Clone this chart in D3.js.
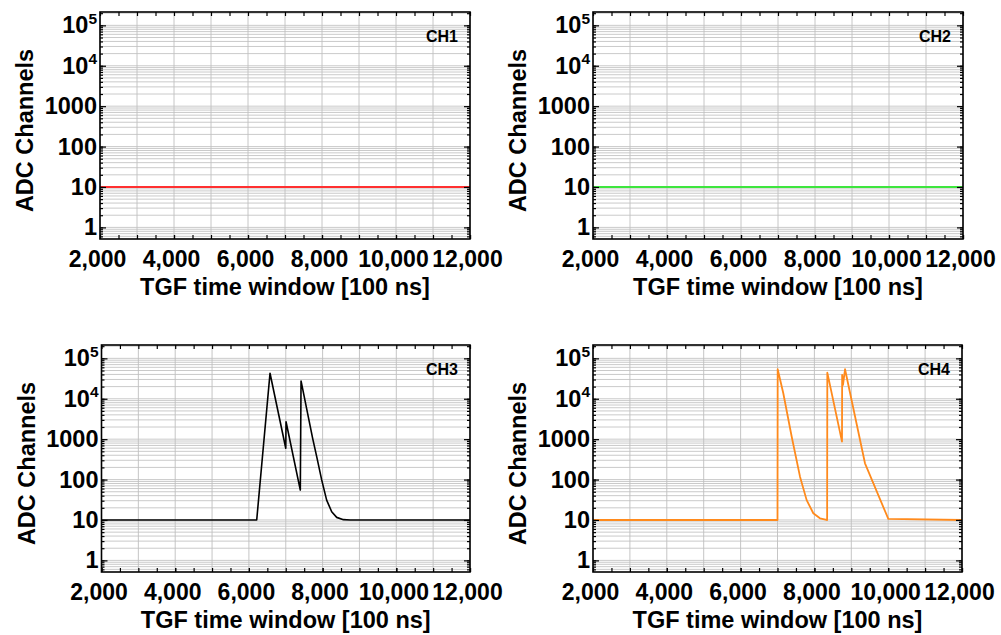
<!DOCTYPE html>
<html>
<head>
<meta charset="utf-8">
<script src="https://cdn.jsdelivr.net/npm/d3@7"></script>
<style>
  body { margin: 0; background: #fff; }
  text { font-family: "Liberation Sans", Arial, sans-serif; font-weight: bold; fill: #000; }
</style>
</head>
<body>
<svg id="chart" width="1001" height="635"></svg>
<script>
// axis values
const xTicks = [2000, 4000, 6000, 8000, 10000, 12000];
const yTicks = [1, 10, 100, 1000, 1e4, 1e5];
const xDomain = [2000, 12000];
const yDomain = [0.516, 2.14e5];
const channels = ['CH1', 'CH2', 'CH3', 'CH4'];

// series (time in 100 ns, ADC channels)
const ch1Time = [2000, 12000];
const ch1Adc = [10, 10];
const ch2Time = [2000, 12000];
const ch2Adc = [10, 10];
const ch3Time = [2000, 6212, 6573, 7000, 7008, 7395, 7415, 7730, 7840, 7975, 8110, 8247, 8383, 8565, 8750, 12000];
const ch3Adc = [10, 10, 42700, 596, 2700, 55, 27600, 1050, 370, 98, 31, 16, 11.6, 10.2, 10, 10];
const ch4Time = [2000, 7000, 7005, 7157, 7385, 7610, 7790, 7970, 8150, 8330, 8345, 8350, 8748, 8752, 8775, 8830, 9371, 10003, 12000];
const ch4Adc = [10, 10, 53700, 13700, 1150, 118, 31, 14.7, 11, 10, 10, 44300, 870, 38900, 21900, 53700, 253, 10.6, 10];

const series = [
  { time: ch1Time, adc: ch1Adc, color: '#ff3030', width: 2 },
  { time: ch2Time, adc: ch2Adc, color: '#3ee63e', width: 2.2 },
  { time: ch3Time, adc: ch3Adc, color: '#000000', width: 1.6 },
  { time: ch4Time, adc: ch4Adc, color: '#ff8a1c', width: 1.8 }
];

// panel boxes
const boxes = [
  { left: 100, right: 470, top: 12, bottom: 239 },
  { left: 593, right: 963, top: 12, bottom: 239 },
  { left: 101.5, right: 470, top: 345, bottom: 572 },
  { left: 593, right: 962, top: 345, bottom: 572 }
];

const svg = d3.select('#chart');
const fmt = d3.format(',');

// grid values
const xMinor = d3.range(xDomain[0], xDomain[1] + 1, 500);
const xGrid = d3.range(xDomain[0], xDomain[1] + 1, 1000);
const yMinor = [];
[0.1, 1, 10, 100, 1000, 1e4, 1e5].forEach(d => {
  for (let k = 1; k <= 9; k++) {
    const v = k * d;
    if (v >= yDomain[0] && v <= yDomain[1]) yMinor.push(v);
  }
});

boxes.forEach((b, i) => {
  const w = b.right - b.left;
  const h = b.bottom - b.top;
  const g = svg.append('g').attr('transform', `translate(${b.left},${b.top})`);

  const x = d3.scaleLinear().domain(xDomain).range([0, w]);
  const y = d3.scaleLog().domain(yDomain).range([h, 0]);

  // grid lines
  g.append('g').selectAll('line').data(yMinor).enter().append('line')
    .attr('x1', 0).attr('x2', w)
    .attr('y1', d => y(d)).attr('y2', d => y(d))
    .attr('stroke', '#c4c4c4').attr('stroke-width', 0.9);
  g.append('g').selectAll('line').data(xGrid).enter().append('line')
    .attr('y1', 0).attr('y2', h)
    .attr('x1', d => x(d)).attr('x2', d => x(d))
    .attr('stroke', '#c0c0c0').attr('stroke-width', 0.9);

  // data line
  const s = series[i];
  const pts = s.time.map((t, j) => [t, s.adc[j]]);
  g.append('path')
    .datum(pts)
    .attr('fill', 'none')
    .attr('stroke', s.color)
    .attr('stroke-width', s.width)
    .attr('stroke-linejoin', 'round')
    .attr('d', d3.line().x(d => x(d[0])).y(d => y(d[1])));

  // frame ticks
  const tickStyle = sel => {
    sel.select('.domain').remove();
    sel.selectAll('.tick line').attr('stroke', '#000').attr('stroke-width', 1.2);
  };
  g.append('g').attr('transform', `translate(0,${h})`)
    .call(d3.axisBottom(x).tickValues(xMinor).tickSize(-4).tickFormat(''))
    .call(tickStyle);
  g.append('g')
    .call(d3.axisTop(x).tickValues(xMinor).tickSize(-4).tickFormat(''))
    .call(tickStyle);
  g.append('g')
    .call(d3.axisLeft(y).tickValues(yMinor).tickSize(-3).tickFormat(''))
    .call(tickStyle);
  g.append('g').attr('transform', `translate(${w},0)`)
    .call(d3.axisRight(y).tickValues(yMinor).tickSize(-3).tickFormat(''))
    .call(tickStyle);
  g.append('g').attr('transform', `translate(${w},0)`)
    .call(d3.axisRight(y).tickValues(yTicks).tickSize(-6).tickFormat(''))
    .call(tickStyle);

  // x labels
  const xa = g.append('g').attr('transform', `translate(0,${h})`)
    .call(d3.axisBottom(x).tickValues(xTicks).tickSize(-4).tickPadding(12).tickFormat(fmt))
    .call(tickStyle);
  xa.selectAll('text').attr('font-size', '23px').attr('font-family', null)
    .attr('dx', -3).style('fill', '#000');

  // y labels
  const ya = g.append('g')
    .call(d3.axisLeft(y).tickValues(yTicks).tickSize(-6).tickPadding(3)
      .tickFormat(d => d >= 1e4 ? '10' : String(d)))
    .call(tickStyle);
  ya.selectAll('text').attr('font-size', '23.5px').attr('font-family', null).style('fill', '#000')
    .each(function(d) {
      if (d >= 1e4) {
        d3.select(this).append('tspan')
          .attr('dy', '-0.6em')
          .attr('font-size', '15.5px')
          .text(Math.round(Math.log10(d)));
      }
    });

  // frame
  g.append('rect').attr('width', w).attr('height', h)
    .attr('fill', 'none').attr('stroke', '#000').attr('stroke-width', 1.6);

  // channel tag
  g.append('text')
    .attr('x', w - 12).attr('y', 30)
    .attr('text-anchor', 'end')
    .attr('font-size', '16px')
    .text(channels[i]);

  // axis titles
  g.append('text')
    .attr('x', w / 2).attr('y', h + 56)
    .attr('text-anchor', 'middle')
    .attr('font-size', '23.5px')
    .text('TGF time window [100 ns]');
  g.append('text')
    .attr('transform', `translate(-67,${h / 2 + 5}) rotate(-90)`)
    .attr('text-anchor', 'middle')
    .attr('font-size', '23.5px')
    .text('ADC Channels');
});
</script>
</body>
</html>
